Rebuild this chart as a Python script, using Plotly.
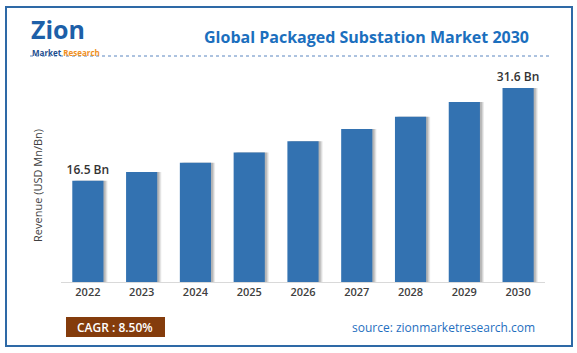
import plotly.graph_objects as go

years = ["2022", "2023", "2024", "2025", "2026", "2027", "2028", "2029", "2030"]
revenue = [16.5, 17.9, 19.4, 21.1, 22.9, 24.9, 26.9, 29.3, 31.6]
label_text = ["16.5 Bn", "", "", "", "", "", "", "", "31.6 Bn"]

bar_color = "#3372B1"
W, H = 577, 353

fig = go.Figure()
# soft shadow layers to the right of the bars
for dx, alpha in [(0.075, 0.10), (0.055, 0.14), (0.035, 0.18)]:
    fig.add_trace(go.Bar(
        x=years, y=revenue, width=0.58, offset=-0.29 + dx,
        marker=dict(color=f"rgba(60,60,60,{alpha})", line=dict(width=0)),
        hoverinfo="skip", showlegend=False))
fig.add_trace(go.Bar(
    x=years, y=revenue, width=0.58, offset=-0.29,
    marker=dict(color=bar_color, line=dict(width=0)),
    text=label_text, textposition="outside", cliponaxis=False,
    constraintext="none",
    textfont=dict(family="Open Sans", size=12, color="#333333", weight=600),
    showlegend=False))

fig.update_layout(
    width=W, height=H,
    margin=dict(l=61, r=32, t=67, b=71),
    paper_bgcolor="white", plot_bgcolor="white",
    barmode="overlay",
    uniformtext=dict(mode=False),
    font=dict(family="Open Sans", color="#404040"),
    xaxis=dict(type="category", range=[-0.5, 8.5], showline=True,
               linecolor="#D9D9D9", linewidth=1, ticks="",
               tickfont=dict(family="Open Sans", size=11, color="#404040", weight=600),
               showgrid=False),
    yaxis=dict(range=[0, 35], showticklabels=False, showgrid=False,
               zeroline=False, showline=False),
    shapes=[
        dict(type="rect", xref="paper", yref="paper",
             x0=(6 - 61) / (W - 93), x1=(572 - 61) / (W - 93),
             y0=(282 - 346) / 215, y1=(282 - 7) / 215,
             line=dict(color="#2E69A6", width=2)),
        dict(type="line", xref="paper", yref="paper",
             x0=(30 - 61) / (W - 93), x1=(552 - 61) / (W - 93),
             y0=(282 - 56) / 215, y1=(282 - 56) / 215,
             line=dict(color="#5B86C0", width=1, dash="3px,3px")),
        dict(type="rect", xref="paper", yref="paper",
             x0=(66 - 61) / (W - 93), x1=(165 - 61) / (W - 93),
             y0=(282 - 337) / 215, y1=(282 - 317) / 215,
             fillcolor="#843C0C", line=dict(width=0)),
    ],
    annotations=[
        dict(text="<b>Global Packaged Substation Market 2030</b>",
             xref="paper", yref="paper", x=(366 - 61) / (W - 93), y=(282 - 37) / 215,
             showarrow=False, xanchor="center", yanchor="middle",
             font=dict(family="Open Sans", size=16, color="#1B6FBE")),
        dict(text="Revenue (USD Mn/Bn)", textangle=-90,
             xref="paper", yref="paper", x=(37 - 61) / (W - 93), y=(282 - 186) / 215,
             showarrow=False, xanchor="center", yanchor="middle",
             font=dict(family="Open Sans", size=11, color="#404040")),
        dict(text="CAGR : 8.50%",
             xref="paper", yref="paper", x=(115 - 61) / (W - 93), y=(282 - 327) / 215,
             showarrow=False, xanchor="center", yanchor="middle",
             font=dict(family="Open Sans", size=12, color="white", weight=600)),
        dict(text="source: zionmarketresearch.com",
             xref="paper", yref="paper", x=(537 - 61) / (W - 93), y=(282 - 327) / 215,
             showarrow=False, xanchor="right", yanchor="middle",
             font=dict(family="Open Sans", size=12, color="#1F6FC0")),
        dict(text="<b>Zion</b>",
             xref="paper", yref="paper", x=(29 - 61) / (W - 93), y=(282 - 29) / 215,
             showarrow=False, xanchor="left", yanchor="middle",
             font=dict(family="Open Sans", size=25, color="#1D5FA8")),
        dict(text="<b><span style='color:#1D4E8F'>Market</span> <span style='color:#F0901E'>Research</span></b>",
             xref="paper", yref="paper", x=(30 - 61) / (W - 93), y=(282 - 52) / 215,
             showarrow=False, xanchor="left", yanchor="middle",
             font=dict(family="Open Sans", size=8, color="#1D4E8F")),
    ],
)

fig.write_html("out.html")
